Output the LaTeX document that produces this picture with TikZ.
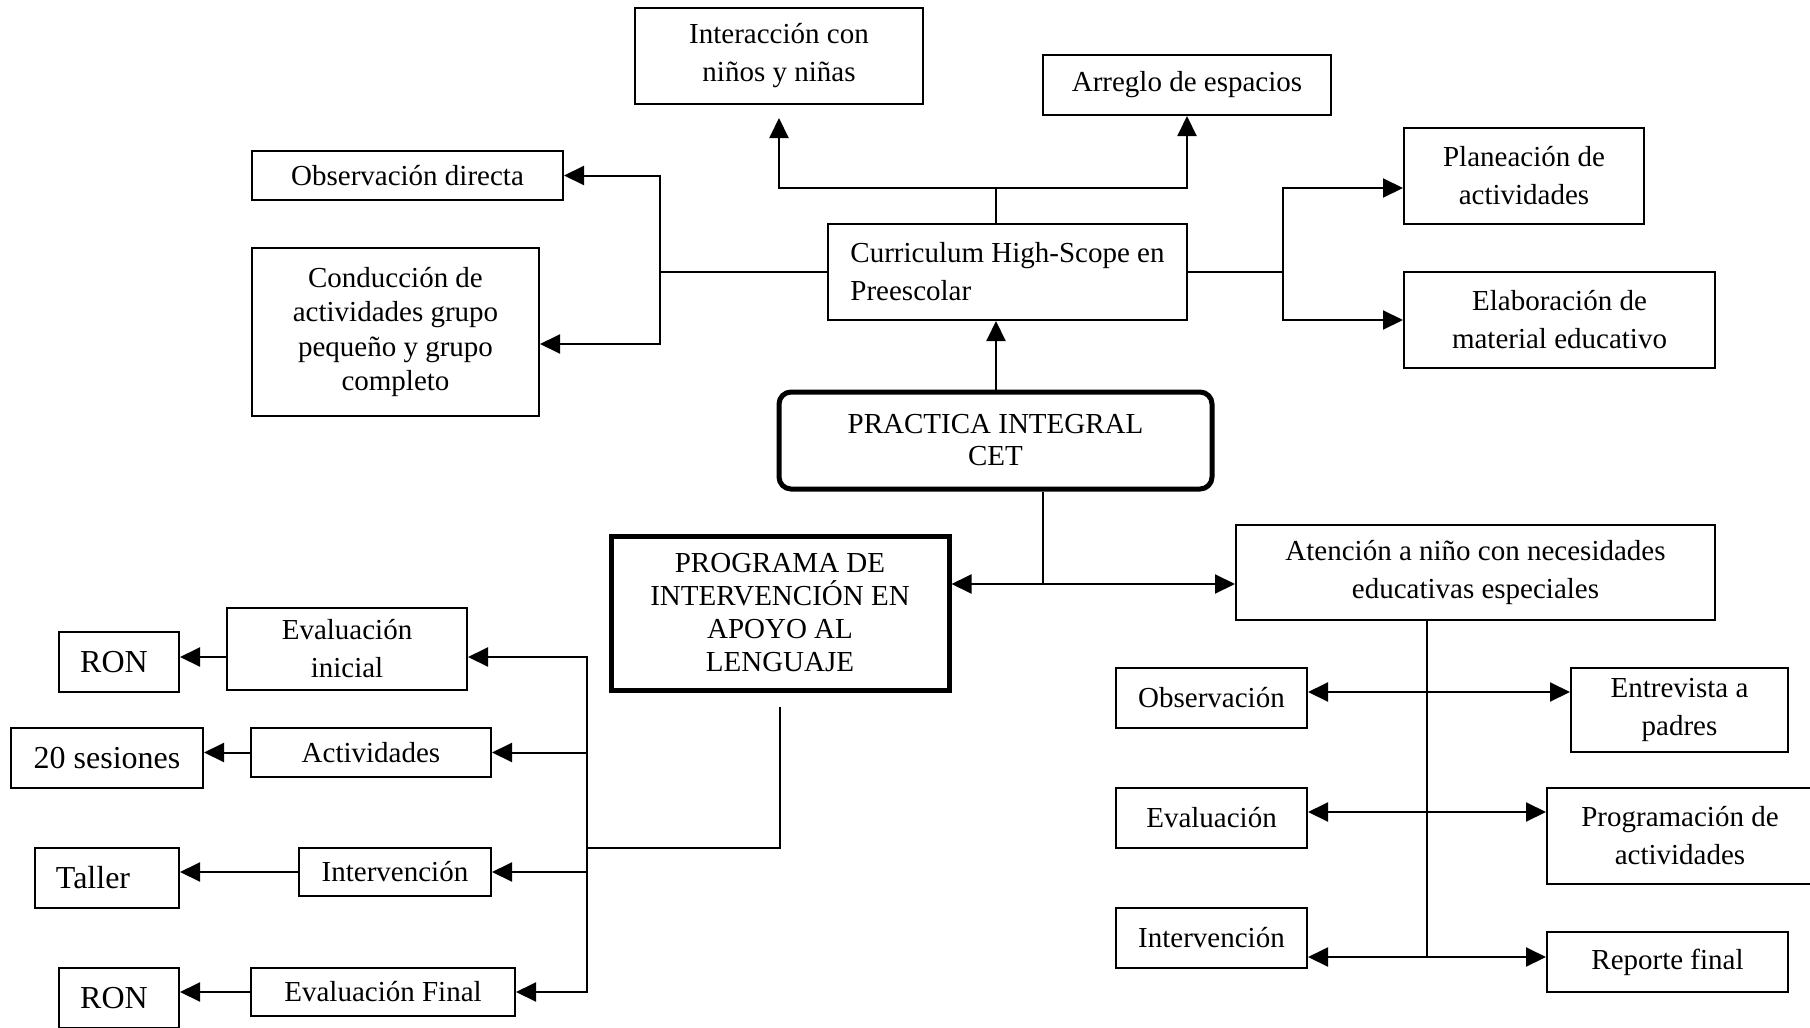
\documentclass[tikz,border=0pt]{standalone}
\usepackage{fontspec}
\setmainfont{Liberation Serif}
\usetikzlibrary{arrows.meta}

\begin{document}
\begin{tikzpicture}[x=0.5pt, y=-0.5pt,
box/.style={draw, line width=1pt, inner sep=0pt, align=center, font=\fontsize{14.5}{19}\selectfont},
heavy/.style={box, line width=2.5pt},
big/.style={font=\fontsize{16}{19}\selectfont},
arr/.style={line width=1pt, -{Triangle[length=10pt,width=9.5pt]}},
dbl/.style={line width=1pt, {Triangle[length=10pt,width=9.5pt]}-{Triangle[length=10pt,width=9.5pt]}},
lin/.style={line width=1pt}]
\useasboundingbox (0,0) rectangle (1810,1028);

% top part
\node[box, minimum width=144pt, minimum height=48pt] (inter) at (779,56) {Interacción con\\niños y niñas};
\node[box, minimum width=144pt, minimum height=30pt] (arreglo) at (1187,85) {Arreglo de espacios};
\node[box, minimum width=155.5pt, minimum height=24.5pt] (obsdir) at (407.5,175.5) {Observación directa};
\node[box, minimum width=143.5pt, minimum height=84pt, font=\fontsize{14.5}{17.3}\selectfont] (conduc) at (395.5,332)
  {Conducción de\\actividades grupo\\pequeño y grupo\\completo};
\node[box, align=left, minimum width=179.5pt, minimum height=48pt] (curric) at (1007.5,272)
  {Curriculum High-Scope en\\Preescolar};
\node[box, minimum width=120pt, minimum height=48pt] (planea) at (1524,176) {Planeación de\\actividades};
\node[box, minimum width=155.5pt, minimum height=48pt] (elabor) at (1559.5,320) {Elaboración de\\material educativo};
\node[heavy, rounded corners=6pt, minimum width=216.5pt, minimum height=48.5pt, font=\fontsize{14.5}{16}\selectfont] (practica) at (995.5,440.5)
  {PRACTICA INTEGRAL\\CET};

% middle
\node[heavy, minimum width=169pt, minimum height=77pt, font=\fontsize{14.5}{16.5}\selectfont] (programa) at (780,613)
  {PROGRAMA DE\\INTERVENCIÓN EN\\APOYO AL\\LENGUAJE};
\node[box, minimum width=239.5pt, minimum height=47.5pt] (atencion) at (1475.5,572.5)
  {Atención a niño con necesidades\\educativas especiales};

% left branch
\node[box, minimum width=120pt, minimum height=41pt] (evini) at (347,649) {Evaluación\\inicial};
\node[box, big, minimum width=60pt, minimum height=30pt] (ron1) at (119,662) {RON\hspace*{5pt}};
\node[box, minimum width=120pt, minimum height=24.5pt] (activ) at (371,752.5) {Actividades};
\node[box, big, minimum width=96pt, minimum height=30pt] (ses) at (107,758) {20 sesiones};
\node[box, minimum width=96pt, minimum height=24pt] (intL) at (395,872) {Intervención};
\node[box, big, minimum width=72pt, minimum height=30pt] (taller) at (107,878) {Taller\hspace*{14pt}};
\node[box, minimum width=132pt, minimum height=24pt] (evfin) at (383,992) {Evaluación Final};
\node[box, big, minimum width=60pt, minimum height=30pt] (ron2) at (119,998) {RON\hspace*{5pt}};

% right branch
\node[box, minimum width=95.5pt, minimum height=30pt] (obsR) at (1211.5,698) {Observación};
\node[box, minimum width=95.5pt, minimum height=30pt] (evR) at (1211.5,818) {Evaluación};
\node[box, minimum width=95.5pt, minimum height=30pt] (intR) at (1211.5,938) {Intervención};
\node[box, minimum width=108.5pt, minimum height=42pt] (entre) at (1679.5,710) {Entrevista a\\padres};
\node[box, minimum width=133pt, minimum height=48pt] (progR) at (1680,836) {Programación de\\actividades};
\node[box, minimum width=120.5pt, minimum height=30pt] (reporte) at (1667.5,962) {Reporte final};

% connectors around the curriculum
\coordinate (ct) at (996,188);
\coordinate (cl) at (660,272);
\coordinate (cr) at (1283,272);
\draw[lin] (ct |- curric.north) -- (ct);
\draw[arr, shorten >=6.5pt] (ct) -| (inter.south);
\draw[arr] (ct) -| (arreglo.south);
\draw[arr] (ct |- practica.north) -- (ct |- curric.south);
\draw[lin] (curric.west) -- (cl);
\draw[arr] (cl) |- (obsdir.east);
\draw[arr] (cl) |- ([yshift=-6pt]conduc.east);
\draw[lin] (curric.east) -- (cr);
\draw[arr] (cr) |- ([yshift=-6pt]planea.west);
\draw[arr] (cr) |- (elabor.west);

% practica to both programs
\coordinate (cm) at (1043,584);
\draw[lin] (cm |- practica.south) -- (cm);
\draw[arr] (cm) -- (cm -| programa.east);
\draw[arr] (cm) -- (cm -| atencion.west);

% left tree
\coordinate (pb) at (780,848);
\coordinate (lt) at (587,848);
\draw[lin, shorten <=7pt] (programa.south) -- (pb) -- (lt);
\coordinate (e1) at ([yshift=-4pt]evini.east);
\coordinate (e2) at ([yshift=-4pt]evini.west);
\draw[arr] (lt) |- (e1);
\draw[arr] (lt) |- (activ.east);
\draw[arr] (lt) -- (lt |- intL.east) -- (intL.east);
\draw[arr] (lt) |- (evfin.east);
\draw[arr] (e2) -- (e2 -| ron1.east);
\draw[arr] (activ.west) -- (activ.west -| ses.east);
\draw[arr] (intL.west) -- (intL.west -| taller.east);
\draw[arr] (evfin.west) -- (evfin.west -| ron2.east);

% right tree
\coordinate (rb) at (1427,957);
\draw[lin] (rb |- atencion.south) -- (rb);
\coordinate (r1) at ([yshift=3pt]obsR.east);
\coordinate (r2) at ([yshift=3pt]evR.east);
\coordinate (r3) at ([yshift=-9.5pt]intR.east);
\draw[dbl] (r1) -- (r1 -| entre.west);
\draw[dbl] (r2) -- (r2 -| progR.west);
\draw[dbl] (r3) -- (r3 -| reporte.west);

\end{tikzpicture}
\end{document}
